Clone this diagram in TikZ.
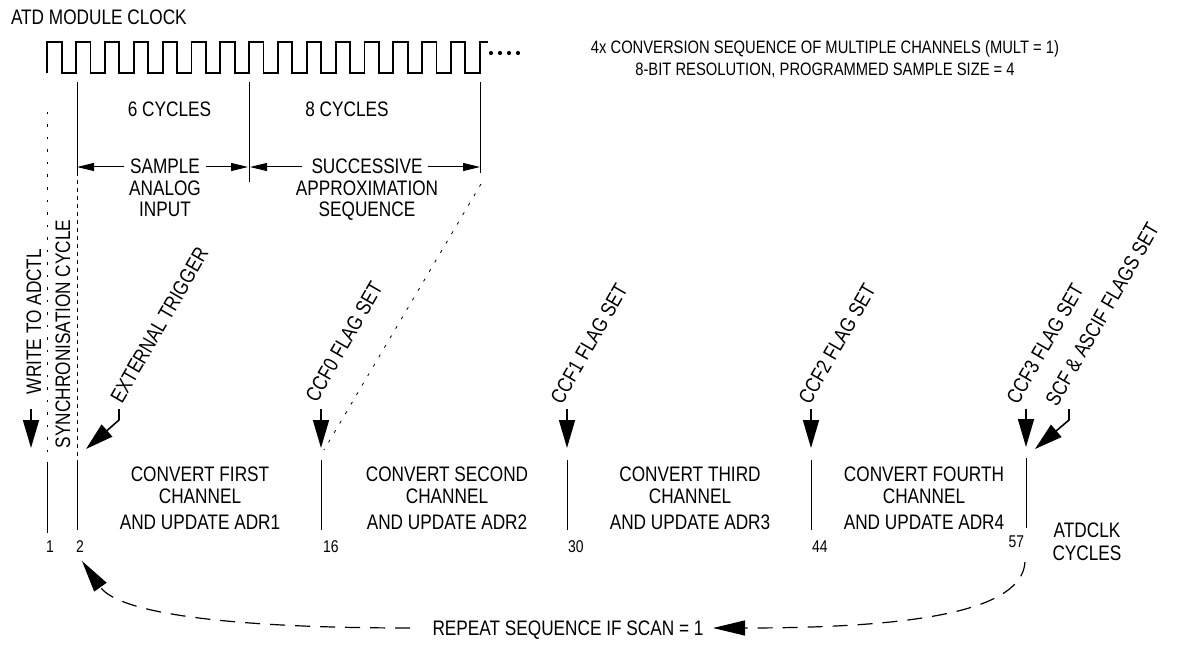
\documentclass[tikz,border=0pt]{standalone}
\usepackage{fontspec}
\setmainfont[FakeStretch=0.82]{Liberation Sans}
\usetikzlibrary{arrows.meta}
\newcommand\fsmain{\fontsize{21}{24}\selectfont}
\newcommand\fssmall{\fontsize{18}{21}\selectfont}
\newcommand\fsnum{\fontsize{17}{19}\selectfont}
\begin{document}
\begin{tikzpicture}[x=1pt,y=-1pt,
  every node/.style={inner sep=0pt, outer sep=0pt, font=\fsmain},
  clk/.style={line width=1.8pt, line join=miter},
  sepline/.style={line width=1pt},
  dashv/.style={line width=0.8pt, dash pattern=on 4pt off 4pt},
  dotv/.style={line width=0.8pt, dash pattern=on 2.5pt off 10pt},
  dotdiag/.style={line width=0.8pt, dash pattern=on 3pt off 8pt},
  dimarr/.style={line width=1pt, -{Triangle[length=17pt,width=8pt]}},
  flagarr/.style={line width=1.6pt, -{Triangle[length=28pt,width=16pt]}},
  looparr/.style={line width=1.2pt, dash pattern=on 15pt off 10pt, -{Triangle[length=32pt,width=15pt]}},
  lbl/.style={anchor=base},
  rlbl/.style={anchor=base west, rotate=60},
  vlbl/.style={anchor=base west, rotate=90},
  num/.style={anchor=base west, font=\fsnum},
  numr/.style={anchor=base east, font=\fsnum},
  note/.style={anchor=base, font=\fssmall}]
\useasboundingbox (0,0) rectangle (1181,666);

% title and notes
\node[anchor=base west] (title) at (11,25) {ATD MODULE CLOCK};
\node[note] (note1) at (825,53.3) {4x CONVERSION SEQUENCE OF MULTIPLE CHANNELS (MULT = 1)};
\node[note] (note2) at (825,76) {8-BIT RESOLUTION, PROGRAMMED SAMPLE SIZE = 4};

% clock
\draw[clk] (47.3,73.3) \foreach \k in {1,...,15}{ -- ++(0,-31) -- ++(14.415,0) -- ++(0,31) -- ++(14.415,0)} -- ++(0,-31) -- ++(8,0);
\foreach \x in {491,500,509,518} \fill (\x,53) circle (2.1pt);

% markers
\coordinate (m0t) at (77,82);
\coordinate (m0b) at (77,172);
\coordinate (m0d) at (77,456);
\coordinate (m1t) at (249,82);
\coordinate (m1b) at (249,182);
\coordinate (m2t) at (480,82);
\coordinate (m2b) at (480,173);
\coordinate (m2d) at (481,184);
\draw[sepline] (m0t) -- (m0b);
\draw[dashv] (m0b) -- (m0d);
\draw[sepline] (m1t) -- (m1b);
\draw[sepline] (m2t) -- (m2b);

\node[lbl] (cyc6) at (169.5,116.7) {6 CYCLES};
\node[lbl] (cyc8) at (347,116.7) {8 CYCLES};

\node[lbl] (sample) at (165,173.5) {SAMPLE};
\node[lbl] (analog) at (165,195) {ANALOG};
\node[lbl] (input) at (165,216.7) {INPUT};
\node[lbl] (succ) at (367,173.5) {SUCCESSIVE};
\node[lbl] (approx) at (367,195) {APPROXIMATION};
\node[lbl] (seq) at (367,216.7) {SEQUENCE};

\coordinate (a1) at (124,167);
\coordinate (a1t) at (77,167);
\coordinate (a2) at (206,167);
\coordinate (a2t) at (248,167);
\coordinate (a3) at (302,167);
\coordinate (a3t) at (250,167);
\coordinate (a4) at (428,167);
\coordinate (a4t) at (480,167);
\draw[dimarr] (a1) -- (a1t);
\draw[dimarr] (a2) -- (a2t);
\draw[dimarr] (a3) -- (a3t);
\draw[dimarr] (a4) -- (a4t);

% dotted lines
\coordinate (d0t) at (47,112);
\coordinate (d0b) at (47,460);
\draw[dotv] (d0t) -- (d0b);
\coordinate (c0d) at (324,450);
\draw[dotdiag] (m2d) -- (c0d);

% vertical labels
\node[vlbl] (write) at (41,394) {WRITE TO ADCTL};
\node[vlbl] (sync) at (70,448) {SYNCHRONISATION CYCLE};

% rotated labels
\node[rlbl] (ext) at (122,404) {EXTERNAL TRIGGER};
\node[rlbl] (ccf0) at (317,403) {CCF0 FLAG SET};
\node[rlbl] (ccf1) at (562,405) {CCF1 FLAG SET};
\node[rlbl] (ccf2) at (810,405) {CCF2 FLAG SET};
\node[rlbl] (ccf3) at (1018,405) {CCF3 FLAG SET};
\node[rlbl] (scf) at (1057,407) {SCF \& ASCIF FLAGS SET};

% flag arrows
\coordinate (ws) at (31,409);   \coordinate (wt) at (31,448);
\coordinate (es) at (119,409);  \coordinate (ek) at (119,420); \coordinate (et) at (86,449);
\coordinate (c0s) at (321,409); \coordinate (c0t) at (321,448);
\coordinate (c1s) at (567,409); \coordinate (c1t) at (567,448);
\coordinate (c2s) at (811,409); \coordinate (c2t) at (811,448);
\coordinate (c3s) at (1026,409); \coordinate (c3t) at (1026,447);
\coordinate (ss) at (1069,409); \coordinate (sk) at (1069,420); \coordinate (st) at (1035,449);
\draw[flagarr] (ws) -- (wt);
\draw[flagarr] (es) -- (ek) -- (et);
\draw[flagarr] (c0s) -- (c0t);
\draw[flagarr] (c1s) -- (c1t);
\draw[flagarr] (c2s) -- (c2t);
\draw[flagarr] (c3s) -- (c3t);
\draw[flagarr] (ss) -- (sk) -- (st);

% separators
\draw[sepline] (47,462) -- (47,533);
\draw[sepline] (77,460) -- (77,530);
\draw[sepline] (321,460) -- (321,530);
\draw[sepline] (567,460) -- (567,530);
\draw[sepline] (811,460) -- (811,530);
\draw[sepline] (1026,458) -- (1026,528);

% block texts
\node[lbl] (b1a) at (200,481.7) {CONVERT FIRST};
\node[lbl] (b1b) at (200,503.3) {CHANNEL};
\node[lbl] (b1c) at (200,529) {AND UPDATE ADR1};
\node[lbl] (b2a) at (447,481.7) {CONVERT SECOND};
\node[lbl] (b2b) at (447,503.3) {CHANNEL};
\node[lbl] (b2c) at (447,529) {AND UPDATE ADR2};
\node[lbl] (b3a) at (690,481.7) {CONVERT THIRD};
\node[lbl] (b3b) at (690,503.3) {CHANNEL};
\node[lbl] (b3c) at (690,529) {AND UPDATE ADR3};
\node[lbl] (b4a) at (924,481.7) {CONVERT FOURTH};
\node[lbl] (b4b) at (924,503.3) {CHANNEL};
\node[lbl] (b4c) at (924,529) {AND UPDATE ADR4};

% numbers
\node[num] (n1) at (46,552) {1};
\node[num] (n2) at (76,552) {2};
\node[num] (n16) at (323,552) {16};
\node[num] (n30) at (568,552) {30};
\node[num] (n44) at (812,552) {44};
\node[numr] (n57) at (1024,547) {57};
\node[lbl] (atdclk) at (1087,537) {ATDCLK};
\node[lbl] (cycles) at (1087,560) {CYCLES};

% repeat loop
\node[lbl] (repeat) at (568,635) {REPEAT SEQUENCE IF SCAN = 1};
\coordinate (r0) at (1025,562);
\coordinate (r1) at (713,628);
\coordinate (l0) at (410,628);
\coordinate (l1) at (82,561);
\draw[looparr] (r0) .. controls (1022,610) and (920,628) .. (r1);
\draw[looparr] (l0) .. controls (240,628) and (120,615) .. (l1);
\end{tikzpicture}
\end{document}
